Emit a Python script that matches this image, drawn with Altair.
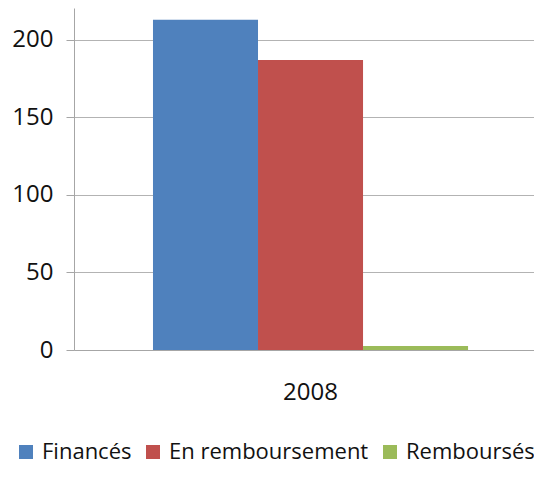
import altair as alt
import pandas as pd

categories = ["2008"]
series = ["Financés", "En remboursement", "Remboursés"]
values = [213, 187, 2.5]
colors = ["#4F81BD", "#C0504D", "#9BBB59"]
y_ticks = [0, 50, 100, 150, 200]

df = pd.DataFrame({
    "year": [categories[0]] * len(series),
    "series": series,
    "value": values,
})

FONT = "Open Sans"

chart = alt.Chart(df).mark_bar().encode(
    x=alt.X(
        "year:N",
        scale=alt.Scale(paddingInner=0, paddingOuter=0.23, align=0.545),
        axis=alt.Axis(
            title=None, labelAngle=0, ticks=False, domain=True,
            domainColor="#A6A6A6", domainWidth=1,
            labelFont=FONT, labelFontSize=24, labelColor="#111111",
            labelPadding=30,
        ),
    ),
    xOffset=alt.XOffset("series:N", sort=series,
                        scale=alt.Scale(paddingInner=0, paddingOuter=0)),
    y=alt.Y(
        "value:Q",
        scale=alt.Scale(domain=[0, 220.6], nice=False),
        axis=alt.Axis(
            title=None, values=y_ticks, grid=True, gridColor="#B3B3B3",
            domainColor="#A6A6A6", tickColor="#A6A6A6", tickSize=8,
            labelFont=FONT, labelFontSize=24, labelColor="#111111",
            labelPadding=13,
        ),
    ),
    color=alt.Color(
        "series:N", sort=series,
        scale=alt.Scale(domain=series, range=colors),
        legend=alt.Legend(
            title=None, orient="none", direction="horizontal",
            legendX=-59, legendY=433,
            symbolType="square", symbolSize=196, symbolStrokeWidth=0,
            symbolOpacity=1,
            labelFont=FONT, labelFontSize=22, labelColor="#111111",
            labelOffset=5, columnPadding=10, labelLimit=400, padding=0,
        ),
    ),
).properties(
    width=460,
    height=342,
    autosize=alt.AutoSizeParams(type="none"),
    padding={"left": 66, "top": 0, "right": 0, "bottom": 114},
).configure_view(stroke=None)

chart.save("out.html", embed_options={"renderer": "svg", "actions": False})
